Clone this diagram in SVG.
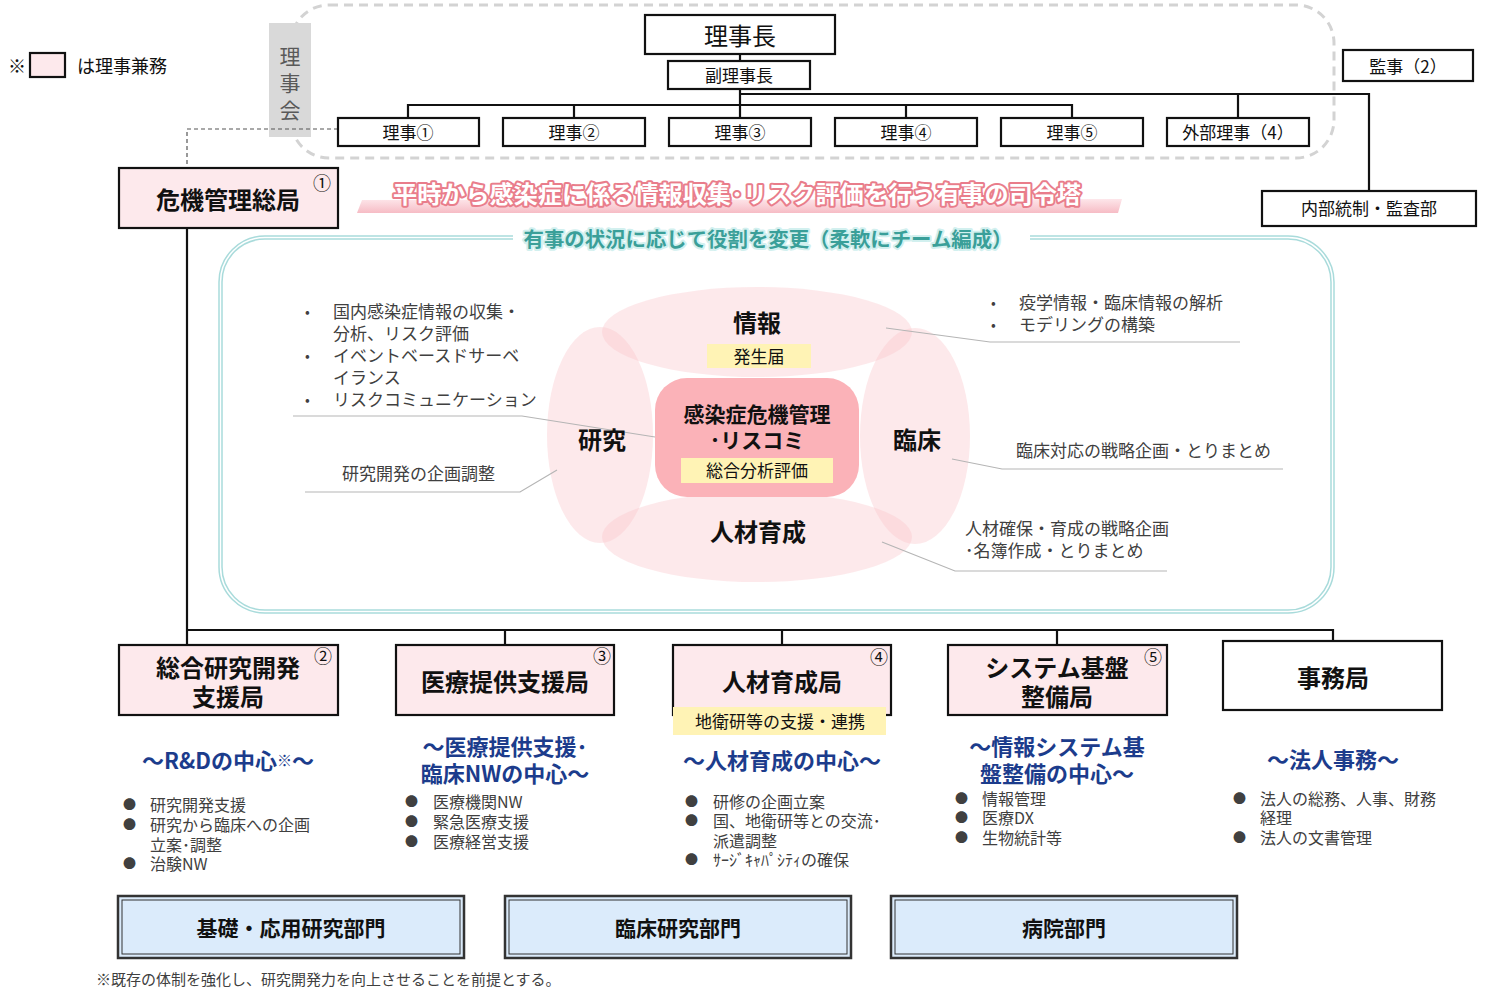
<svg xmlns="http://www.w3.org/2000/svg" width="1485" height="993" viewBox="0 0 1485 993">
<style>
text{font-family:'Noto Sans CJK JP','Noto Sans',sans-serif;fill:#111;transform:translateY(-1.5px)}
.box{fill:#fff;stroke:#111;stroke-width:2.2}
.pink{fill:#fde9ec;stroke:#111;stroke-width:2.2}
.c{text-anchor:middle;dominant-baseline:central}
.b{font-weight:bold}
.t17{font-size:17px}
.t18{font-size:18px}
.t24{font-size:24px}
.num{font-size:18px;text-anchor:middle;dominant-baseline:central}
.g{fill:#404040;font-size:17px;dominant-baseline:central}
.g16{fill:#404040;font-size:16px;dominant-baseline:central}
.blue{fill:#1c3c8c;font-size:22px;font-weight:bold;text-anchor:middle;dominant-baseline:central}
.ln{stroke:#111;stroke-width:2.2;fill:none}
.lead{stroke:#b5b5b5;stroke-width:1.2;fill:none}
.ell{fill:#f9c5cb;fill-opacity:0.38}
.yel{fill:#fff3b5}
.dept{fill:#dbebfb;stroke:#333;stroke-width:2.5}
.depti{fill:none;stroke:#333;stroke-width:1}
</style>
<defs>
<linearGradient id="band" x1="0" y1="0" x2="0" y2="1">
<stop offset="0" stop-color="#fde6ea"/>
<stop offset="1" stop-color="#f6bcc5"/>
</linearGradient>
</defs>

<!-- legend -->
<g id="legend">
<text x="8" y="66" class="t18" style="dominant-baseline:central">※</text>
<rect x="30" y="53" width="35" height="24" class="pink"/>
<text x="77" y="66" class="t18" style="dominant-baseline:central">は理事兼務</text>
</g>

<!-- board dashed area -->
<g id="board-area">
<rect x="291" y="5" width="1043" height="153" rx="38" fill="none" stroke="#d3d3d3" stroke-width="3" stroke-dasharray="9 6"/>
<rect x="269" y="23" width="42" height="114" fill="#d9d9d9"/>
<text x="290" y="56" class="c" style="font-size:21px;fill:#595959">理</text>
<text x="290" y="83" class="c" style="font-size:21px;fill:#595959">事</text>
<text x="290" y="110" class="c" style="font-size:21px;fill:#595959">会</text>
</g>

<!-- connectors -->
<g id="connectors">
<line x1="740" y1="54" x2="740" y2="118" class="ln"/>
<polyline points="408,118 408,105 1072,105 1072,118" class="ln"/>
<line x1="574" y1="105" x2="574" y2="118" class="ln"/>
<line x1="906" y1="105" x2="906" y2="118" class="ln"/>
<polyline points="740,94 1369,94 1369,191" class="ln"/>
<line x1="1238" y1="94" x2="1238" y2="118" class="ln"/>
<polyline points="338,129 187,129 187,168" fill="none" stroke="#555" stroke-width="1.2" stroke-dasharray="4 3"/>
<line x1="187" y1="228" x2="187" y2="645" class="ln"/>
<polyline points="187,630 1333,630 1333,641" class="ln"/>
<line x1="505" y1="630" x2="505" y2="645" class="ln"/>
<line x1="782" y1="630" x2="782" y2="645" class="ln"/>
<line x1="1057" y1="630" x2="1057" y2="645" class="ln"/>
</g>

<g id="rijicho"><rect x="645" y="15" width="190" height="39" class="box"/><text x="740" y="36" class="c t24">理事長</text></g>
<g id="fukurijicho"><rect x="668" y="61" width="142" height="28" class="box"/><text x="739" y="75.5" class="c t17">副理事長</text></g>
<g id="riji1"><rect x="338" y="118" width="141" height="28" class="box"/><text x="408" y="132.5" class="c t17">理事①</text></g>
<g id="riji2"><rect x="503" y="118" width="142" height="28" class="box"/><text x="574" y="132.5" class="c t17">理事②</text></g>
<g id="riji3"><rect x="669" y="118" width="142" height="28" class="box"/><text x="740" y="132.5" class="c t17">理事③</text></g>
<g id="riji4"><rect x="835" y="118" width="142" height="28" class="box"/><text x="906" y="132.5" class="c t17">理事④</text></g>
<g id="riji5"><rect x="1001" y="118" width="142" height="28" class="box"/><text x="1072" y="132.5" class="c t17">理事⑤</text></g>
<g id="gaibu"><rect x="1167" y="118" width="142" height="28" class="box"/><text x="1238" y="132.5" class="c t17">外部理事（4）</text></g>
<g id="kanji"><rect x="1343" y="50" width="130" height="31" class="box"/><text x="1408" y="66.5" class="c t17">監事（2）</text></g>
<g id="naibu"><rect x="1262" y="191" width="214" height="35" class="box"/><text x="1369" y="209" class="c t17">内部統制・監査部</text></g>

<g id="kiki"><rect x="119" y="168" width="219" height="60" class="pink"/><text x="228" y="200" class="c t24 b">危機管理総局</text><text x="322" y="183" class="num">①</text></g>

<!-- banner -->
<g id="banner">
<polygon points="362,200 1122,199 1118,213 357,213" fill="url(#band)"/>
<text x="737" y="194" class="c b" style="font-size:23.5px;fill:#fff;stroke:#e97d8b;stroke-width:4;paint-order:stroke;stroke-linejoin:round" textLength="688" lengthAdjust="spacingAndGlyphs">平時から感染症に係る情報収集･リスク評価を行う有事の司令塔</text>
</g>

<!-- team area -->
<g id="team-area">
<rect x="219" y="236" width="1115" height="377" rx="46" fill="none" stroke="#a9dbdb" stroke-width="1.5"/>
<rect x="222" y="239" width="1109" height="371" rx="43" fill="none" stroke="#a9dbdb" stroke-width="1.5"/>
<rect x="513" y="228" width="517" height="22" fill="#fff"/>
<text x="768" y="240" class="c b" style="font-size:20px;fill:#3a9f99;stroke:#d2f0ef;stroke-width:4;paint-order:stroke;stroke-linejoin:round" textLength="489" lengthAdjust="spacingAndGlyphs">有事の状況に応じて役割を変更（柔軟にチーム編成）</text>
</g>

<g id="ellipses">
<ellipse cx="757" cy="332" rx="155" ry="45" class="ell"/>
<ellipse cx="757" cy="537" rx="155" ry="45" class="ell"/>
<ellipse cx="600" cy="435" rx="53" ry="108" class="ell"/>
<ellipse cx="915" cy="436" rx="55" ry="108" class="ell"/>
</g>

<g id="leaders">
<polyline points="293,416 522,416 655,437" class="lead"/>
<polyline points="305,492 520,492 557,470" class="lead"/>
<polyline points="886,328 990,342 1240,342" class="lead"/>
<polyline points="952,459 1002,469 1283,469" class="lead"/>
<polyline points="882,542 955,571 1167,571" class="lead"/>
</g>

<g id="jouhou"><text x="757" y="323" class="c b t24">情報</text><rect x="707" y="344" width="104" height="24" class="yel"/><text x="759" y="357" class="c t17">発生届</text></g>
<g id="kenkyu"><text x="602" y="440" class="c b t24">研究</text></g>
<g id="rinsho"><text x="917" y="440" class="c b t24">臨床</text></g>
<g id="jinzai"><text x="758" y="532" class="c b t24">人材育成</text></g>
<g id="center">
<rect x="655" y="378" width="204" height="119" rx="32" fill="#fbb2b8"/>
<text x="757" y="414" class="c b" style="font-size:21px">感染症危機管理</text>
<text x="757" y="440" class="c b" style="font-size:21px">･リスコミ</text>
<rect x="681" y="458" width="152" height="25" class="yel"/>
<text x="757" y="471" class="c t17">総合分析評価</text>
</g>

<g id="left-notes">
<text x="305" y="312" class="g" style="font-size:14px">•</text>
<text x="333" y="312" class="g">国内感染症情報の収集・</text>
<text x="333" y="334" class="g">分析、リスク評価</text>
<text x="305" y="356" class="g" style="font-size:14px">•</text>
<text x="333" y="356" class="g">イベントベースドサーベ</text>
<text x="333" y="378" class="g">イランス</text>
<text x="305" y="400" class="g" style="font-size:14px">•</text>
<text x="333" y="400" class="g">リスクコミュニケーション</text>
<text x="342" y="474" class="g">研究開発の企画調整</text>
</g>
<g id="right-notes">
<text x="991" y="303" class="g" style="font-size:14px">•</text>
<text x="1019" y="303" class="g">疫学情報・臨床情報の解析</text>
<text x="991" y="325" class="g" style="font-size:14px">•</text>
<text x="1019" y="325" class="g">モデリングの構築</text>
<text x="1016" y="451" class="g">臨床対応の戦略企画・とりまとめ</text>
<text x="965" y="529" class="g">人材確保・育成の戦略企画</text>
<text x="965" y="551" class="g">･名簿作成・とりまとめ</text>
</g>

<!-- bureaus -->
<g id="sogo"><rect x="119" y="645" width="219" height="70" class="pink"/><text x="228" y="668" class="c t24 b">総合研究開発</text><text x="228" y="697" class="c t24 b">支援局</text><text x="323" y="656" class="num">②</text></g>
<g id="iryo"><rect x="396" y="645" width="218" height="70" class="pink"/><text x="505" y="682" class="c t24 b">医療提供支援局</text><text x="602" y="656" class="num">③</text></g>
<g id="jinzaikyoku"><rect x="673" y="645" width="218" height="70" class="pink"/><text x="782" y="682" class="c t24 b">人材育成局</text><text x="879" y="657" class="num">④</text><rect x="673" y="707" width="213" height="28" class="yel"/><text x="780" y="721.5" class="c t17">地衛研等の支援・連携</text></g>
<g id="system"><rect x="948" y="645" width="219" height="70" class="pink"/><text x="1057" y="668" class="c t24 b">システム基盤</text><text x="1057" y="697" class="c t24 b">整備局</text><text x="1153" y="657" class="num">⑤</text></g>
<g id="jimu"><rect x="1223" y="641" width="219" height="69" class="box"/><text x="1333" y="678" class="c t24 b">事務局</text></g>

<g id="headings">
<text x="228" y="760" class="blue">～R&amp;Dの中心<tspan style="font-size:15px">※</tspan>～</text>
<text x="505" y="746" class="blue">～医療提供支援･</text>
<text x="505" y="773" class="blue">臨床NWの中心～</text>
<text x="782" y="760" class="blue">～人材育成の中心～</text>
<text x="1057" y="746" class="blue">～情報システム基</text>
<text x="1057" y="773" class="blue">盤整備の中心～</text>
<text x="1333" y="759" class="blue">～法人事務～</text>
</g>

<g id="lists">
<text x="123" y="805" class="g16" style="font-size:13px">●</text><text x="150" y="805" class="g16">研究開発支援</text>
<text x="123" y="825" class="g16" style="font-size:13px">●</text><text x="150" y="825" class="g16">研究から臨床への企画</text>
<text x="150" y="845" class="g16">立案･調整</text>
<text x="123" y="864" class="g16" style="font-size:13px">●</text><text x="150" y="864" class="g16">治験NW</text>

<text x="405" y="802" class="g16" style="font-size:13px">●</text><text x="433" y="802" class="g16">医療機関NW</text>
<text x="405" y="822" class="g16" style="font-size:13px">●</text><text x="433" y="822" class="g16">緊急医療支援</text>
<text x="405" y="842" class="g16" style="font-size:13px">●</text><text x="433" y="842" class="g16">医療経営支援</text>

<text x="685" y="802" class="g16" style="font-size:13px">●</text><text x="713" y="802" class="g16">研修の企画立案</text>
<text x="685" y="821" class="g16" style="font-size:13px">●</text><text x="713" y="821" class="g16">国、地衛研等との交流･</text>
<text x="713" y="841" class="g16">派遣調整</text>
<text x="685" y="860" class="g16" style="font-size:13px">●</text><text x="713" y="860" class="g16">ｻｰｼﾞｷｬﾊﾟｼﾃｨの確保</text>

<text x="955" y="799" class="g16" style="font-size:13px">●</text><text x="982" y="799" class="g16">情報管理</text>
<text x="955" y="818" class="g16" style="font-size:13px">●</text><text x="982" y="818" class="g16">医療DX</text>
<text x="955" y="838" class="g16" style="font-size:13px">●</text><text x="982" y="838" class="g16">生物統計等</text>

<text x="1233" y="799" class="g16" style="font-size:13px">●</text><text x="1260" y="799" class="g16">法人の総務、人事、財務</text>
<text x="1260" y="818" class="g16">経理</text>
<text x="1233" y="838" class="g16" style="font-size:13px">●</text><text x="1260" y="838" class="g16">法人の文書管理</text>
</g>

<g id="dept1"><rect x="118" y="896" width="346" height="62" class="dept"/><rect x="122" y="900" width="338" height="54" class="depti"/><text x="291" y="928" class="c b" style="font-size:21px">基礎・応用研究部門</text></g>
<g id="dept2"><rect x="505" y="896" width="346" height="62" class="dept"/><rect x="509" y="900" width="338" height="54" class="depti"/><text x="678" y="928" class="c b" style="font-size:21px">臨床研究部門</text></g>
<g id="dept3"><rect x="891" y="896" width="346" height="62" class="dept"/><rect x="895" y="900" width="338" height="54" class="depti"/><text x="1064" y="928" class="c b" style="font-size:21px">病院部門</text></g>

<g id="footnote"><text x="96" y="980" style="font-size:15px;fill:#404040;dominant-baseline:central">※既存の体制を強化し、研究開発力を向上させることを前提とする。</text></g>
</svg>
